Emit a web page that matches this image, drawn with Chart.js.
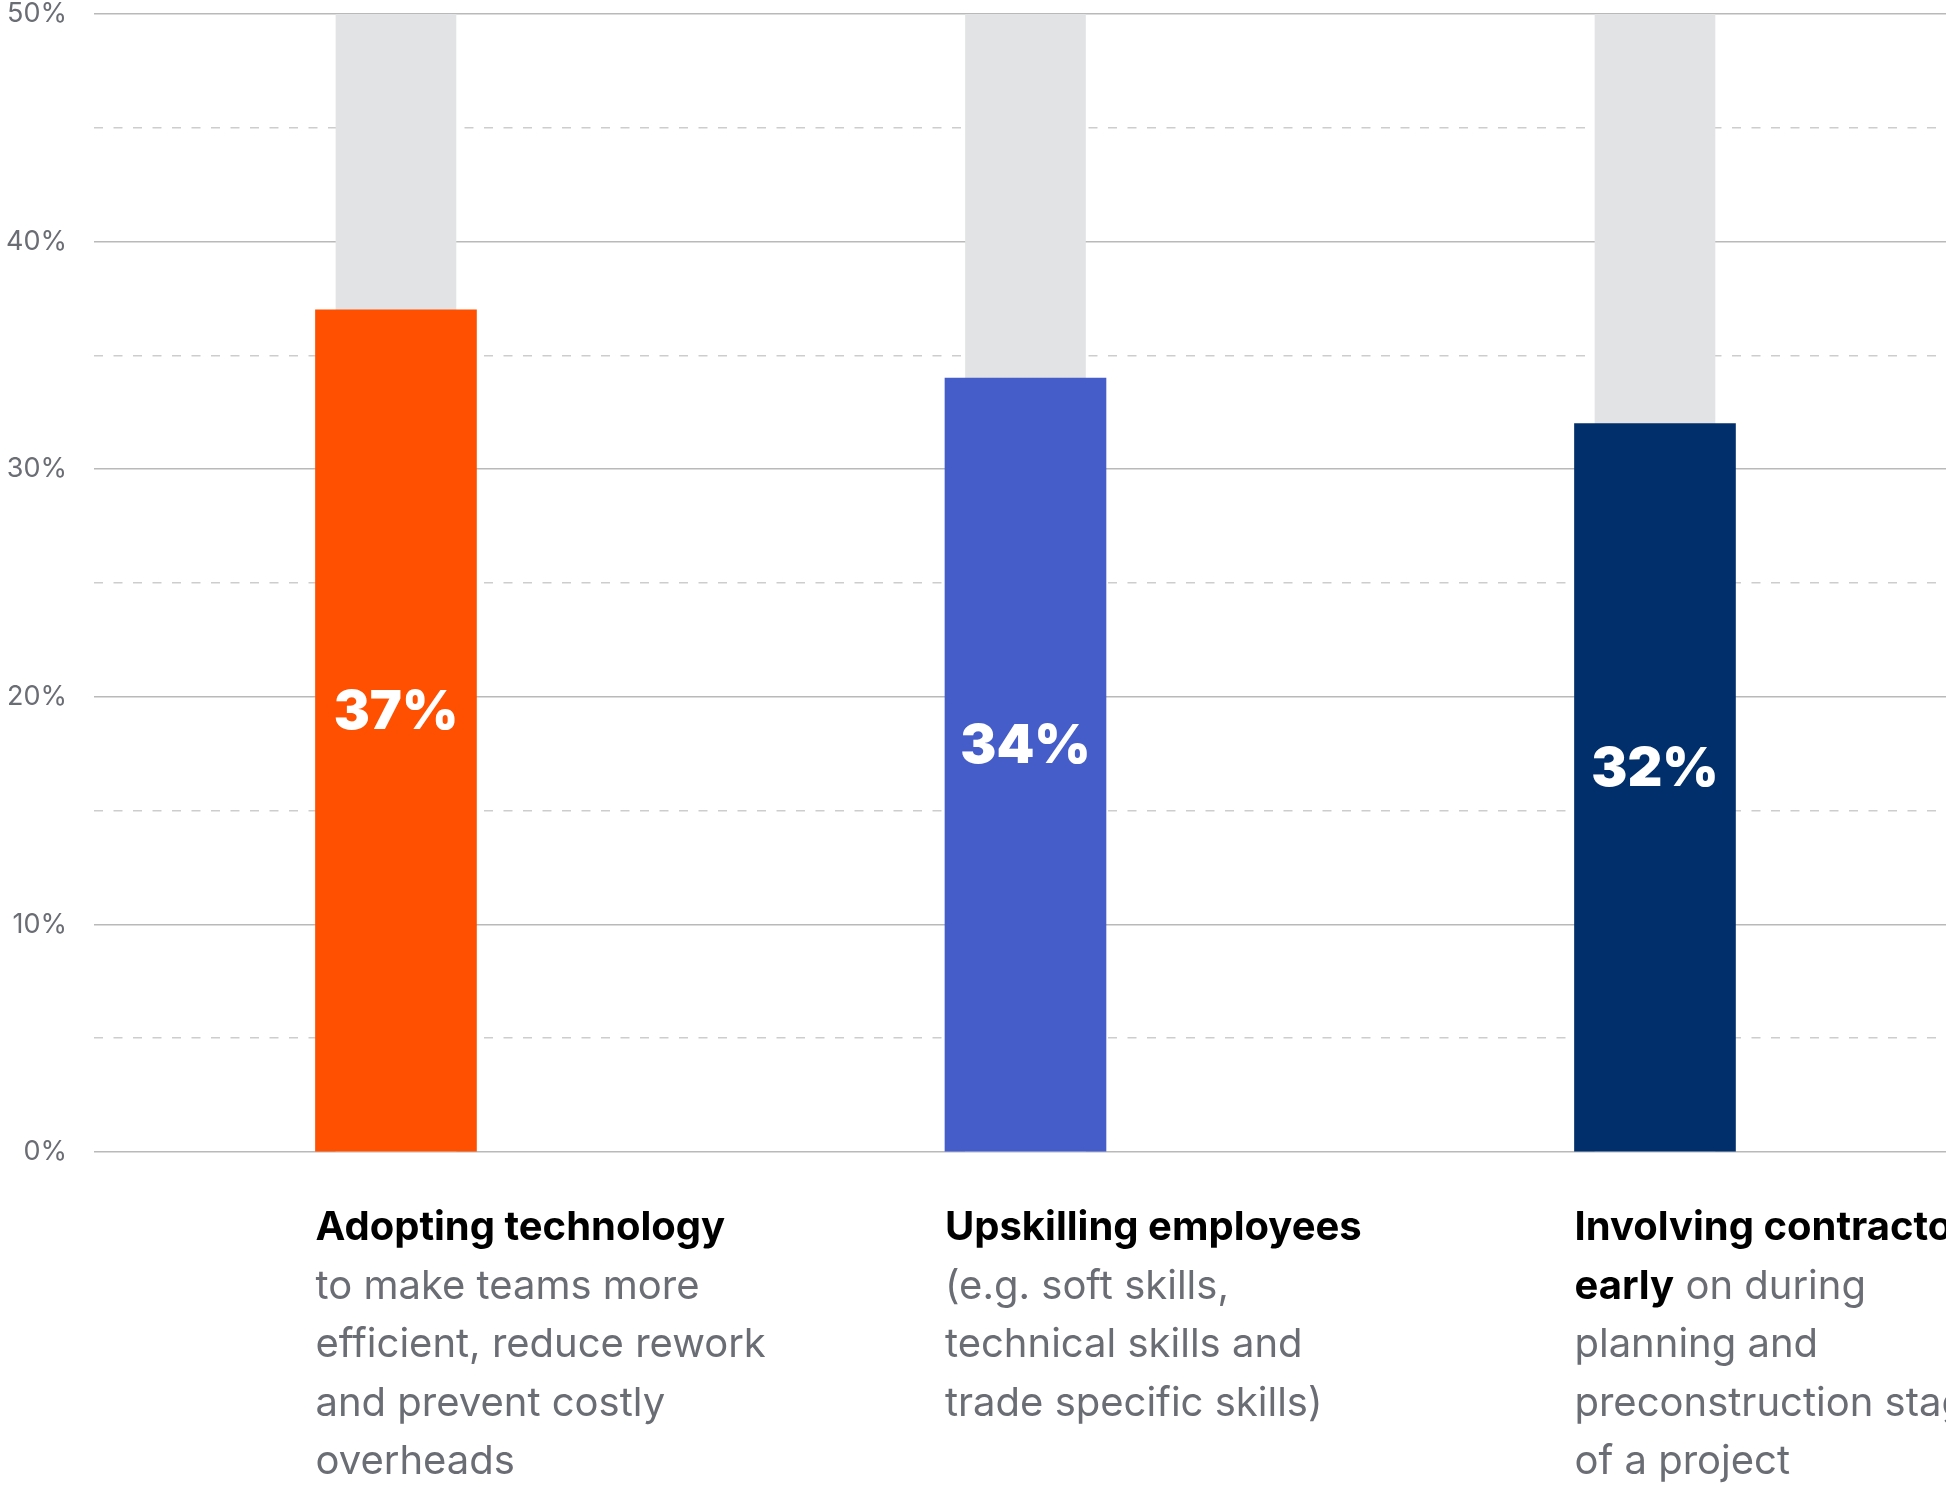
<!DOCTYPE html>
<html>
<head>
<meta charset="utf-8">
<script src="https://cdn.jsdelivr.net/npm/chart.js@4/dist/chart.umd.min.js"></script>
<style>
  html, body { margin: 0; padding: 0; background: #fff; overflow: hidden; }
  #wrap { width: 1946px; height: 1487px; position: relative; }
</style>
</head>
<body>
<div id="wrap"><canvas id="priorityChart"></canvas></div>
<script>
// survey shares per initiative
const categories = ['Adopting technology', 'Upskilling employees', 'Involving contractors early'];
const shares = [37, 34, 32];
const trackTop = [50, 50, 50];
const barColors = ['#fe5000', '#445dc9', '#002f6c'];

// caption lines under each bar: [bold part, regular part]
const captionLines = [
  [['Adopting technology', ''], ['', 'to make teams more'], ['', 'efficient, reduce rework'], ['', 'and prevent costly'], ['', 'overheads']],
  [['Upskilling employees', ''], ['', '(e.g. soft skills,'], ['', 'technical skills and'], ['', 'trade specific skills)']],
  [['Involving contractors', ''], ['early', ' on during'], ['', 'planning and'], ['', 'preconstruction stages'], ['', 'of a project']]
];

const BAR_W = 161;
const FONT = 'Inter, "Noto Sans", sans-serif';

const valueLabels = {
  id: 'valueLabels',
  afterDatasetsDraw(chart) {
    const { ctx } = chart;
    const meta = chart.getDatasetMeta(0);
    ctx.save();
    ctx.fillStyle = '#ffffff';
    ctx.font = '900 54px ' + FONT;
    ctx.textAlign = 'center';
    ctx.textBaseline = 'middle';
    meta.data.forEach((bar, i) => {
      const y = (bar.y + bar.base) / 2 - 18;
      ctx.fillText(shares[i] + '%', bar.x, y);
    });
    ctx.restore();
  }
};

const captions = {
  id: 'captions',
  afterDraw(chart) {
    const { ctx, chartArea } = chart;
    const xs = chart.scales.x;
    ctx.save();
    ctx.textBaseline = 'middle';
    ctx.textAlign = 'left';
    captionLines.forEach((lines, i) => {
      const left = xs.getPixelForValue(i) - BAR_W / 2;
      lines.forEach((parts, k) => {
        const y = chartArea.bottom + 76 + k * 58.5;
        let x = left;
        if (parts[0]) {
          ctx.font = '700 40px ' + FONT;
          ctx.fillStyle = '#000000';
          ctx.fillText(parts[0], x, y);
          x += ctx.measureText(parts[0]).width;
        }
        if (parts[1]) {
          ctx.font = '400 40px ' + FONT;
          ctx.fillStyle = '#6b6d75';
          ctx.fillText(parts[1], x, y);
        }
      });
    });
    ctx.restore();
  }
};

new Chart(document.getElementById('priorityChart'), {
  type: 'bar',
  data: {
    labels: categories,
    datasets: [
      {
        label: 'Share',
        data: shares.map((v, i) => ({ x: i, y: v })),
        backgroundColor: barColors,
        barThickness: BAR_W,
        grouped: false,
        order: 0
      },
      {
        label: 'Track',
        data: trackTop.map((v, i) => ({ x: i, y: v })),
        backgroundColor: '#e2e3e5',
        barThickness: 120,
        grouped: false,
        order: 1
      }
    ]
  },
  options: {
    responsive: true,
    maintainAspectRatio: false,
    animation: false,
    layout: { padding: { left: 0, right: 0, top: 14, bottom: 335 } },
    plugins: { legend: { display: false }, tooltip: { enabled: false } },
    scales: {
      x: {
        type: 'linear',
        display: false,
        offset: false,
        min: -0.4797,
        max: 2.4623
      },
      y: {
        min: 0,
        max: 50,
        afterFit: s => { s.width = 94; s.paddingTop = 0; s.paddingBottom = 0; },
        ticks: {
          stepSize: 10,
          padding: 27,
          color: '#6b6d75',
          font: { family: FONT, size: 27 },
          callback: v => v + '%'
        },
        grid: { color: '#b9b9b9', lineWidth: 1.5, drawTicks: false },
        border: { display: false }
      },
      y2: {
        position: 'right',
        min: 0,
        max: 50,
        afterFit: s => { s.width = 0; s.paddingTop = 0; s.paddingBottom = 0; },
        ticks: { display: false, stepSize: 5 },
        grid: {
          drawTicks: false,
          lineWidth: 1.5,
          color: c => (c.tick && c.tick.value % 10 !== 0) ? '#cdcdcd' : 'rgba(0,0,0,0)'
        },
        border: { display: false, dash: [9, 10.5] }
      }
    }
  },
  plugins: [valueLabels, captions]
});
</script>
</body>
</html>
